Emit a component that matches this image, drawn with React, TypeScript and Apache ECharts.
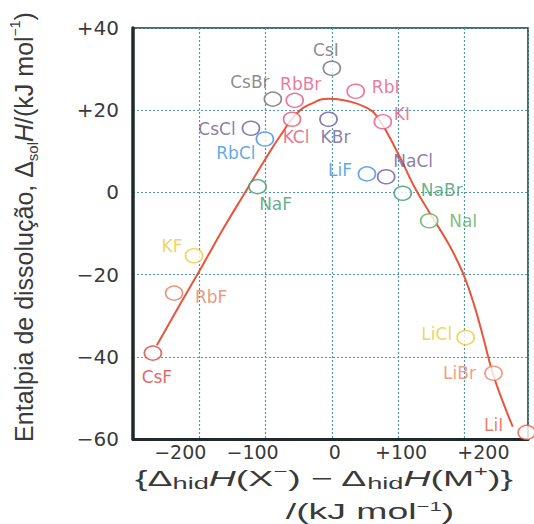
import React, { useEffect, useRef } from 'react';
import * as echarts from 'echarts';

// ---- data ----
const salts = ['CsI', 'CsBr', 'RbBr', 'RbI', 'KCl', 'KBr', 'KI', 'CsCl', 'RbCl', 'LiF', 'NaCl', 'NaBr', 'NaI', 'NaF', 'KF', 'RbF', 'CsF', 'LiCl', 'LiBr', 'LiI'];
const hydrationDiff = [0, -89, -56, 36, -60, -5, 77, -122, -101, 53, 82, 107, 147, -112, -208, -238, -270, 202, 244, 294];
const solutionEnthalpy = [30.2, 22.7, 22.4, 24.6, 17.8, 17.8, 17.2, 15.6, 13.0, 4.5, 3.8, -0.2, -6.9, 1.4, -15.4, -24.5, -39.1, -35.3, -44, -58.4];

const trendX = [-264, -230, -196, -163, -130, -100, -76, -53, -28, -4, 22, 52, 70, 102, 124, 150, 175, 188, 200, 214, 228, 242, 257, 273];
const trendY = [-37.2, -27.5, -18, -8.6, 0.2, 8.2, 14.2, 19.2, 21.8, 22.8, 22.3, 20.6, 18, 8.8, 1.5, -5.6, -12.2, -16.2, -20.5, -27, -35, -43.5, -50.5, -57];

const xTickValues = [-200, -100, 0, 100, 200];
const xTickLabels = ['−200', '−100', '0', '+100', '+200'];
const yTickValues = [-60, -40, -20, 0, 20, 40];
const yTickLabels = ['−60', '−40', '−20', '0', '+20', '+40'];

// ---- styling (kept apart from the data) ----
const saltColor: Record<string, string> = {
  CsI: '#6f6f6f', CsBr: '#6f6f6f',
  RbBr: '#e6577f', RbI: '#e6577f', KCl: '#e4526f', KI: '#e6577f',
  KBr: '#6e5a9a', CsCl: '#6e5a9a', NaCl: '#6e5a9a',
  RbCl: '#3d8fe0', LiF: '#3d8fe0',
  NaBr: '#3f9a6c', NaF: '#3f9a6c', NaI: '#62ad5f',
  KF: '#efc73a', LiCl: '#efc73a',
  RbF: '#e27d5c', CsF: '#d8413f', LiBr: '#f08262', LiI: '#e85c44',
};
const labelOffset: Record<string, number[]> = {
  CsI: [-6, -18], CsBr: [-23, -17], RbBr: [6, -16], RbI: [30, -4], KCl: [4, 18], KBr: [7, 18],
  KI: [19, -8], CsCl: [-34, 1], RbCl: [-29, 14], LiF: [-27, -4], NaCl: [27, -16], NaBr: [39, -3],
  NaI: [34, 0], NaF: [18, 17], KF: [-22, -10], RbF: [37, 4], CsF: [4, 24], LiCl: [-29, -3],
  LiBr: [-34, 0], LiI: [-33, -7],
};
const xLabelShift = [-19, -13, 3, 3, 19];

const TEXT = '#3a3a3a';
const SANS = 'Liberation Sans, Arial, sans-serif';
const WIDE = 'DejaVu Sans, sans-serif';

function buildOption() {
  const xRich: Record<string, any> = {};
  xTickValues.forEach((_, i) => {
    const s = xLabelShift[i];
    xRich['k' + i] = {
      fontFamily: WIDE, fontSize: 19, color: TEXT,
      padding: s < 0 ? [0, -2 * s, 0, 0] : [0, 0, 0, 2 * s],
    };
  });

  const titleRich = (size: number, sub: number, sup: number, lh: number) => ({
    t: { fontFamily: SANS, fontSize: size, lineHeight: lh, fill: TEXT, color: TEXT },
    i: { fontFamily: SANS, fontSize: size, fontStyle: 'italic', lineHeight: lh, fill: TEXT, color: TEXT },
    s: { fontFamily: SANS, fontSize: sub, verticalAlign: 'bottom', lineHeight: sub, fill: TEXT, color: TEXT },
    p: { fontFamily: SANS, fontSize: sup, verticalAlign: 'top', lineHeight: sup, fill: TEXT, color: TEXT },
  });

  return {
    animation: false,
    backgroundColor: '#ffffff',
    grid: {
      left: 133, top: 28, width: 395, height: 411,
      show: true, borderColor: '#2a2a2a', borderWidth: 1.5, backgroundColor: 'transparent',
    },
    xAxis: {
      type: 'value', min: -300, max: 296, interval: 100,
      axisLine: { show: true, onZero: false, lineStyle: { color: '#1f2b2b', width: 3 } },
      axisTick: { show: false },
      splitLine: { show: true, lineStyle: { color: '#4f9aa5', width: 1.2, type: [2, 2] } },
      axisLabel: {
        margin: 3, fontFamily: WIDE, fontSize: 19, color: TEXT,
        formatter: (v: number) => {
          const i = xTickValues.indexOf(Math.round(v));
          return i >= 0 ? `{k${i}|${xTickLabels[i]}}` : '';
        },
        rich: xRich,
      },
    },
    yAxis: {
      type: 'value', min: -60, max: 40, interval: 20,
      axisLine: { show: true, onZero: false, lineStyle: { color: '#1f2b2b', width: 3.5 } },
      axisTick: { show: false },
      splitLine: { show: true, lineStyle: { color: '#4f9aa5', width: 1.2, type: [2, 2] } },
      axisLabel: {
        margin: 14, fontFamily: WIDE, fontSize: 20, color: TEXT, padding: [0, 0, 6, 0],
        formatter: (v: number) => {
          const i = yTickValues.indexOf(Math.round(v));
          return i >= 0 ? yTickLabels[i] : '';
        },
      },
    },
    graphic: [
      {
        type: 'text', x: 24, y: 227, rotation: Math.PI / 2,
        style: {
          text: '{t|Entalpia de dissolução, Δ}{s|sol}{i|H}{t|/(kJ mol}{p|−1}{t|)}',
          rich: titleRich(25, 15, 14, 32),
          align: 'center', verticalAlign: 'middle', textAlign: 'center', textVerticalAlign: 'middle',
          fill: TEXT, fontFamily: SANS, fontSize: 25,
        },
      },
      {
        type: 'text', x: 324, y: 478, scaleX: 1.7,
        style: {
          text: '{Δ{s|hid}{i|H}(X{p|−}) − Δ{s|hid}{i|H}(M{p|+})}',
          rich: titleRich(22, 16, 14, 28),
          align: 'center', verticalAlign: 'middle', textAlign: 'center', textVerticalAlign: 'middle',
          fill: TEXT, fontFamily: SANS, fontSize: 22, lineHeight: 28,
        },
      },
      {
        type: 'text', x: 370, y: 511, scaleX: 1.7,
        style: {
          text: '/(kJ mol{p|−1})',
          rich: titleRich(22, 16, 13, 21),
          align: 'center', verticalAlign: 'middle', textAlign: 'center', textVerticalAlign: 'middle',
          fill: TEXT, fontFamily: SANS, fontSize: 22, lineHeight: 21,
        },
      },
    ],
    series: [
      {
        type: 'line',
        data: trendX.map((x, i) => [x, trendY[i]]),
        smooth: 0.5,
        showSymbol: false,
        clip: false,
        silent: true,
        z: 2,
        lineStyle: { color: '#e8553a', width: 2 },
      },
      {
        type: 'scatter',
        clip: false,
        z: 3,
        symbol: 'circle',
        symbolSize: [17, 14],
        data: salts.map((name, i) => ({
          name,
          value: [hydrationDiff[i], solutionEnthalpy[i]],
          itemStyle: { color: '#ffffff', borderColor: saltColor[name], borderWidth: 1.6 },
          label: { color: saltColor[name], offset: labelOffset[name] },
        })),
        label: {
          show: true, position: 'inside', formatter: '{b}',
          fontFamily: WIDE, fontSize: 17, align: 'center', verticalAlign: 'middle',
        },
      },
    ],
  };
}

export default function App() {
  const ref = useRef<HTMLDivElement>(null);
  useEffect(() => {
    if (!ref.current) return;
    const chart = echarts.init(ref.current, null, { renderer: 'svg' });
    chart.setOption(buildOption() as any);
    return () => chart.dispose();
  }, []);
  return (
    <div
      ref={ref}
      style={{ position: 'absolute', left: 0, top: 0, width: 534, height: 524, background: '#ffffff' }}
    />
  );
}
